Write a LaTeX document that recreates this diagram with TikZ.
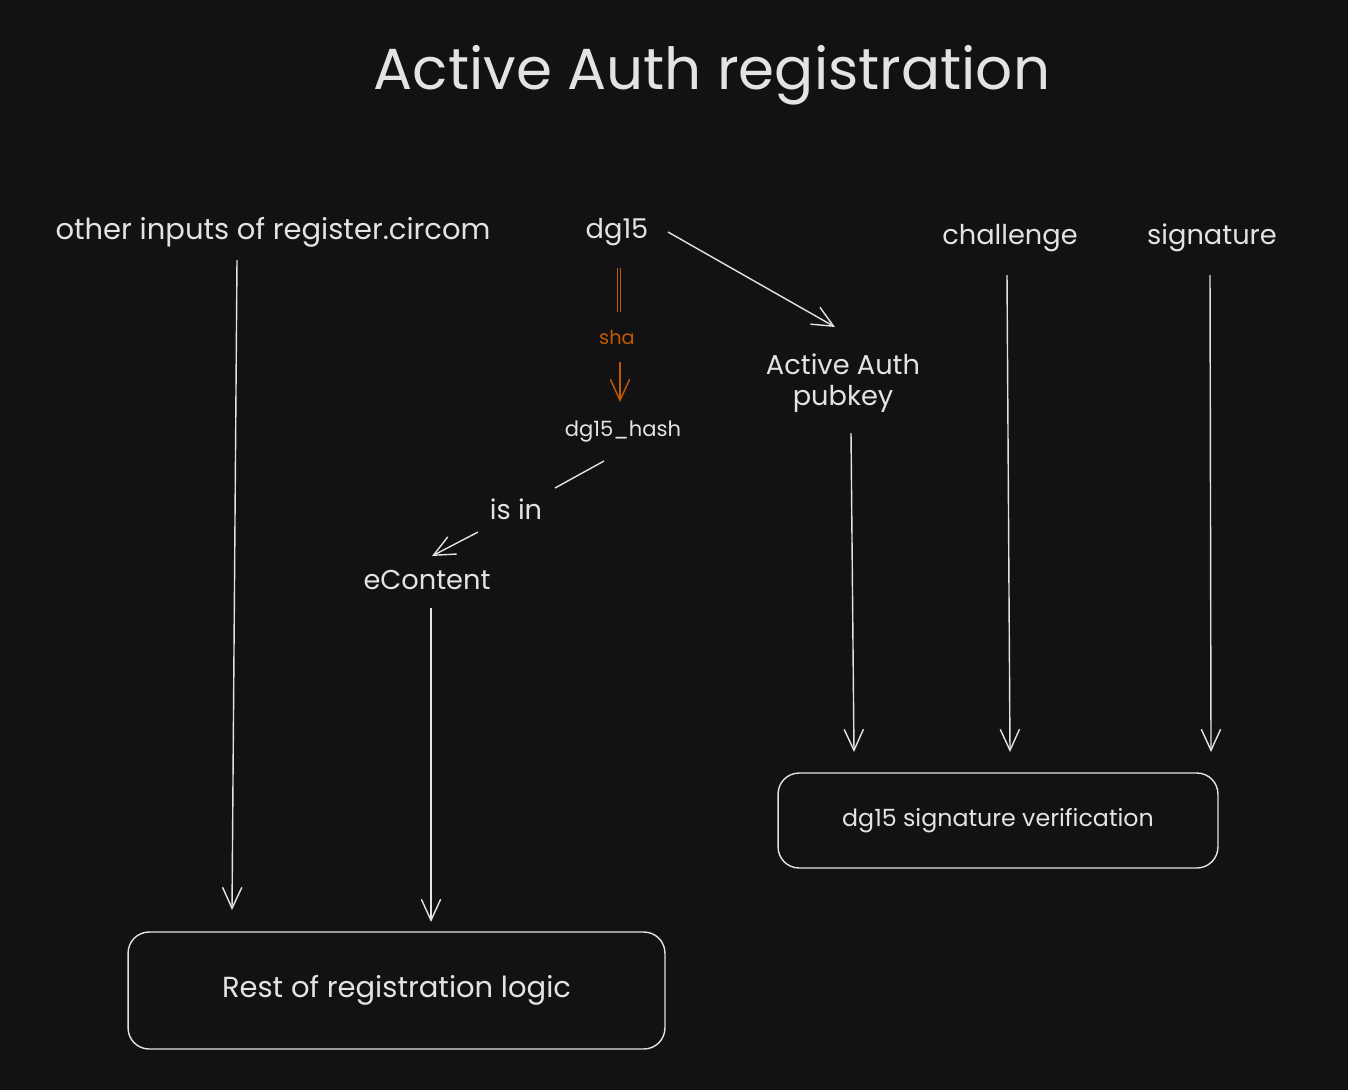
\documentclass[tikz,border=0pt]{standalone}
\usepackage{fontspec}
\setmainfont{Poppins}
\usetikzlibrary{arrows.meta}
\definecolor{bg}{HTML}{121114}
\definecolor{fg}{HTML}{E3E3E3}
\definecolor{org}{HTML}{C45A00}
\begin{document}
\begin{tikzpicture}[x=0.02cm,y=-0.02cm,
  lbl/.style={text=fg,font=\fontsize{15.5}{18}\selectfont,inner sep=2pt},
  arr/.style={draw=fg,line width=0.8pt,-{Straight Barb[length=12pt,width=11pt]}},
  box/.style={draw=fg,line width=0.8pt,rounded corners=12pt,text=fg,inner sep=0pt}]
\fill[bg] (0,0) rectangle (1348,1090);
\useasboundingbox (0,0) rectangle (1348,1090);
\node[text=fg,font=\fontsize{33}{36}\selectfont] (title) at (712,75) {Active Auth registration};
\node[lbl,font=\fontsize{16.5}{19}\selectfont] (other) at (273,232) {other inputs of register.circom};
\node[lbl] (dg) at (617,232) {dg15};
\node[lbl] (chal) at (1010,238) {challenge};
\node[lbl] (sig) at (1212,238) {signature};
\node[text=org,font=\fontsize{11}{13}\selectfont] (sha) at (617,337) {sha};
\node[lbl,font=\fontsize{12}{14}\selectfont] (hash) at (623,432) {dg15\_hash};
\node[lbl] (isin) at (516,509) {is in};
\node[lbl] (econ) at (427,580) {eContent};
\node[lbl,align=center] (pub) at (843,383) {Active Auth\\pubkey};
\node[box,minimum width=10.74cm,minimum height=2.34cm,font=\fontsize{16.5}{19}\selectfont] (rest) at (396.5,990.5) {Rest of registration logic};
\node[box,minimum width=8.8cm,minimum height=1.9cm,font=\fontsize{13.5}{16}\selectfont] (ver) at (998,820.5) {dg15 signature verification};
\coordinate (a1) at (237,260); \coordinate (a2) at (232,910);
\coordinate (b1) at (431,608); \coordinate (b2) at (431,922);
\coordinate (c1) at (668,232); \coordinate (c2) at (835,327);
\coordinate (d1) at (851,433); \coordinate (d2) at (854,752);
\coordinate (e1) at (1007,275); \coordinate (e2) at (1010,752);
\coordinate (f1) at (1210,275); \coordinate (f2) at (1211,752);
\coordinate (g1) at (619,268); \coordinate (g2) at (619,312);
\coordinate (h1) at (620,362); \coordinate (h2) at (620,402);
\coordinate (i1) at (604,461); \coordinate (i2) at (555,488);
\coordinate (j1) at (478,532); \coordinate (j2) at (432,556);
\draw[arr] (a1) -- (a2);
\draw[arr] (b1) -- (b2);
\draw[arr] (c1) -- (c2);
\draw[arr] (d1) -- (d2);
\draw[arr] (e1) -- (e2);
\draw[arr] (f1) -- (f2);
\draw[org,line width=0.8pt,double=bg,double distance=1.2pt] (g1) -- (g2);
\draw[arr,draw=org] (h1) -- (h2);
\draw[fg,line width=0.8pt] (i1) -- (i2);
\draw[arr] (j1) -- (j2);
\end{tikzpicture}
\end{document}
